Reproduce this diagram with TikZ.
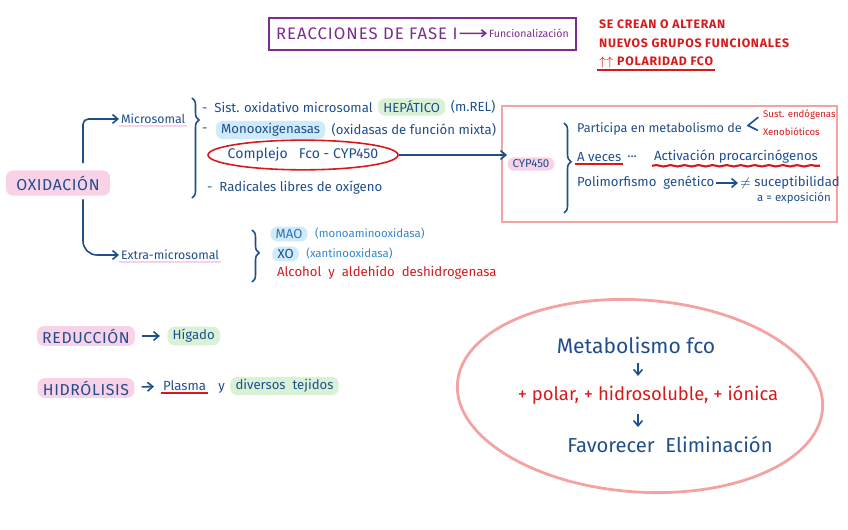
\documentclass[tikz,border=0pt]{standalone}
\usepackage{fontspec}
\setmainfont{Fira Sans}
\usetikzlibrary{calc,positioning,fit,shapes.geometric,arrows.meta,decorations.pathreplacing,decorations.pathmorphing}

\definecolor{azul}{HTML}{1F4E8C}
\definecolor{celeste}{HTML}{2F86D6}
\definecolor{rojo}{HTML}{D7191C}
\definecolor{morado}{HTML}{7B2C8E}
\definecolor{rosa}{HTML}{F9D2E8}
\definecolor{verde}{HTML}{D9F2D6}
\definecolor{cielo}{HTML}{CFEAF8}
\definecolor{salmon}{HTML}{F4A3A3}

\tikzset{
  txt/.style={anchor=west, inner sep=1pt, text=azul, font=\fontsize{7.5}{9}\selectfont},
  marca/.style={rounded corners=4pt, inner xsep=3pt, inner ysep=1.5pt},
  rosamarca/.style={marca, fill=rosa},
  verdemarca/.style={marca, fill=verde},
  cielomarca/.style={marca, fill=cielo},
  mayus/.style={txt, text=rojo, font=\fontsize{7}{8}\selectfont\bfseries\addfontfeatures{LetterSpace=6}},
  grande/.style={font=\fontsize{9}{10}\selectfont\addfontfeatures{LetterSpace=4}},
  flecha/.style={-{Straight Barb[length=3pt,width=5pt]}, azul, line width=0.9pt},
  llave/.style={azul, line width=0.9pt, decorate},
  subraya/.style={line width=1.2pt},
}

\begin{document}
\begin{tikzpicture}[x=0.02cm,y=-0.02cm]
\useasboundingbox (0,0) rectangle (848,530);
% titulo
\node[txt, text=morado, font=\fontsize{9.5}{10}\selectfont\addfontfeatures{LetterSpace=6}] (fase) at (274,34) {REACCIONES DE FASE I};
\node[txt, text=morado, font=\fontsize{6}{7}\selectfont] (func) at (487,33) {Funcionalización};
\draw[-{Straight Barb[length=2.5pt,width=4pt]}, morado, line width=0.9pt] (fase) -- (func);
\node[draw=morado, line width=1.1pt, inner xsep=3pt, inner ysep=4.5pt, fit=(fase)(func)] (titulo) {};
\node[mayus] (crean) at (597,24) {SE CREAN O ALTERAN};
\node[mayus] (nuevos) at (597,43) {NUEVOS GRUPOS FUNCIONALES};
\node[mayus] (polaridad) at (597,62) {$\uparrow\uparrow$ POLARIDAD FCO};
\draw[rojo, subraya] (polaridad.south west) -- (polaridad.south east);

% oxidacion
\node[rosamarca, text=azul, grande, inner xsep=6pt, inner ysep=3pt] (oxid) at (58,183) {OXIDACIÓN};
\node[txt, font=\fontsize{7}{8}\selectfont] (micro) at (119,119) {Microsomal};
\draw[rosa, subraya] (micro.south west) -- (micro.south east);
\node[txt, font=\fontsize{7}{8}\selectfont] (extra) at (119,255) {Extra-microsomal};
\draw[rosa, subraya] (extra.south west) -- (extra.south east);
\draw[flecha, rounded corners=3pt, shorten <=4pt] ($(oxid.north)+(25,0)$) |- (micro.west);
\draw[flecha, rounded corners=8pt, shorten <=2pt] ($(oxid.south)+(25,0)$) |- (extra.west);

% microsomal
\draw[llave, decoration={brace, amplitude=4pt, aspect=0.22}] (192,98) -- (192,198);
\node[txt] (sist) at (200,107) {-\ \ Sist. oxidativo microsomal};
\node[txt, verdemarca] (hepa) at ($(sist.east)+(3,0)$) {HEPÁTICO};
\node[txt] (mrel) at ($(hepa.east)+(3,0)$) {(m.REL)};
\node[txt] (guion) at (200,130) {-};
\node[txt, cielomarca] (mono) at ($(guion.east)+(6,0)$) {Monooxigenasas};
\node[txt] (mixta) at ($(mono.east)+(4,0)$) {(oxidasas de función mixta)};
\node[ellipse, draw=rojo, line width=0.9pt, text=azul, font=\fontsize{8}{9}\selectfont,
  minimum width=190*0.02cm, minimum height=28*0.02cm, inner xsep=-5pt, inner ysep=2pt] (complejo) at (303,155) {Complejo \ \ Fco - CYP450};
\node[txt] (radical) at (205,188) {-\ \ Radicales libres de oxígeno};

% cyp450
\draw[salmon, line width=1.6pt] (502,106) rectangle (837,222);
\node[rosamarca, text=azul, font=\fontsize{6.5}{8}\selectfont] (cyp) at (531,164) {CYP450};
\draw[flecha] (complejo.east) -- (complejo.east -| cyp.west);
\draw[llave, decoration={brace, amplitude=4pt, aspect=0.43}] (564,123) -- (564,213);
\node[txt, font=\fontsize{7.2}{9}\selectfont] (part) at (575,129) {Participa en metabolismo de};
\node[txt, text=rojo, font=\fontsize{5.5}{6}\selectfont] (sust) at (761,115) {Sust. endógenas};
\node[txt, text=rojo, font=\fontsize{5.5}{6}\selectfont] (xeno) at (761,132) {Xenobióticos};
\coordinate (fork) at ($(sust.west)!0.5!(xeno.west)+(-13,2)$);
\draw[azul, line width=0.9pt, shorten <=2pt, shorten >=2pt] (sust.west) -- (fork) -- (xeno.west);
\node[txt] (veces) at (575,157) {A veces};
\draw[rojo, subraya] (veces.south west) -- (veces.south east);
\node[txt] (puntos) at ($(veces.east)+(2,0)$) {...};
\node[txt] (activa) at (652,157) {Activación procarcinógenos};
\draw[rojo, subraya, decorate, decoration={snake, amplitude=0.4pt, segment length=8pt}] (activa.south west) -- (activa.south east);
\node[txt] (poli) at (575,183) {Polimorfismo \ genético};
\node[txt] (susc) at (738,183) {$\neq$ suceptibilidad};
\draw[flecha] (poli) -- (susc);
\node[txt, font=\fontsize{6.5}{8}\selectfont] (expo) at (755,198) {a = exposición};

% extra-microsomal
\draw[llave, decoration={brace, amplitude=4pt, aspect=0.44}] (252,230) -- (252,282);
\node[txt, cielomarca, text=celeste!70!azul] (mao) at (270,234) {MAO};
\node[txt, text=celeste, font=\fontsize{6.5}{8}\selectfont] (maolargo) at ($(mao.east)+(5,0)$) {(monoaminooxidasa)};
\node[txt, cielomarca, text=azul] (xo) at (272,254) {XO};
\node[txt, text=celeste, font=\fontsize{6.5}{8}\selectfont] (xolargo) at ($(xo.east)+(5,0)$) {(xantinooxidasa)};
\node[txt, text=rojo] (alcohol) at (275,273) {Alcohol \ y \ aldehído \ deshidrogenasa};

% reduccion e hidrolisis
\node[rosamarca, text=azul, grande] (reduc) at (86,336) {REDUCCIÓN};
\node[txt, verdemarca] (higado) at (167,336) {Hígado};
\draw[flecha, shorten <=4pt, shorten >=4pt] (reduc) -- (higado);
\node[rosamarca, text=azul, grande] (hidro) at (86,388) {HIDRÓLISIS};
\node[txt] (plasma) at (161,386) {Plasma};
\draw[rojo, subraya] (plasma.south west) -- (plasma.south east);
\draw[flecha, shorten <=4pt, shorten >=4pt] (hidro) -- (plasma);
\node[txt] (yy) at ($(plasma.east)+(8,2)$) {y};
\node[txt, verdemarca] (tejidos) at ($(yy.east)+(3,-2)$) {diversos \ tejidos};

% metabolismo
\draw[salmon, line width=1.6pt, rotate around={-4:(640,396)}] (640,396) ellipse (183 and 96);
\node[text=azul, font=\fontsize{12}{14}\selectfont] (meta) at (636,345) {Metabolismo fco};
\node[text=rojo, font=\fontsize{10.5}{12}\selectfont] (polar) at (648,395) {+ polar, + hidrosoluble, + iónica};
\node[text=azul, font=\fontsize{11.5}{13}\selectfont] (fav) at (670,445) {Favorecer \ Eliminación};
\draw[flecha, shorten <=2pt, shorten >=2pt] (meta.south -| 638,0) -- (polar.north -| 638,0);
\draw[flecha, shorten <=2pt, shorten >=2pt] (polar.south -| 638,0) -- (fav.north -| 638,0);
\end{tikzpicture}
\end{document}
